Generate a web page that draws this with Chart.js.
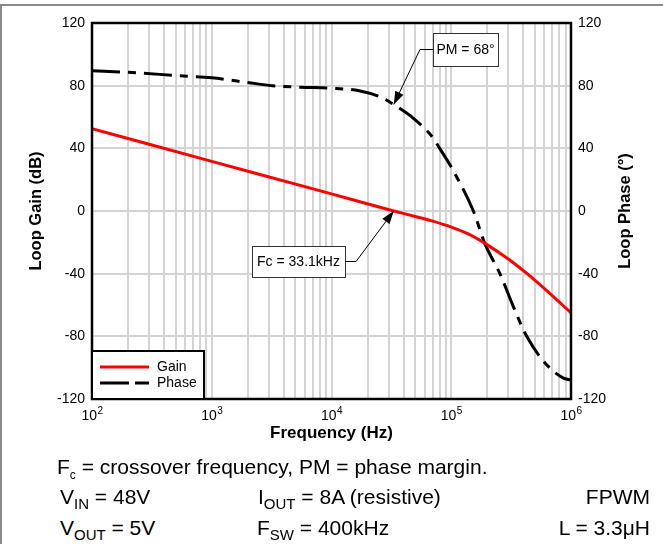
<!DOCTYPE html>
<html>
<head>
<meta charset="utf-8">
<script src="https://cdn.jsdelivr.net/npm/chart.js@4/dist/chart.umd.min.js"></script>
<style>
body{margin:0;background:#fff;}
#wrap{position:relative;width:663px;height:544px;overflow:hidden;font-family:"Liberation Sans",Arial,sans-serif;}
#frame{position:absolute;left:0;top:4px;width:680px;height:600px;border-top:2px solid #8a8a8a;border-left:2px solid #8a8a8a;}
#bode{position:absolute;left:0;top:0;}
.note{position:absolute;font-size:21px;line-height:21px;color:#000;white-space:nowrap;}
.note sub{font-size:15px;vertical-align:-5px;line-height:0;}
.note sub.c{font-size:12px;}
</style>
</head>
<body>
<div id="wrap">
<div id="frame"></div>
<canvas id="bode" width="663" height="460"></canvas>
<div class="note" style="left:57px;top:456px">F<sub class="c">c</sub> = crossover frequency, PM = phase margin.</div>
<div class="note" style="left:60px;top:486px">V<sub>IN</sub> = 48V</div>
<div class="note" style="left:258px;top:486px">I<sub>OUT</sub> = 8A (resistive)</div>
<div class="note" style="right:13px;top:486px">FPWM</div>
<div class="note" style="left:60px;top:517px">V<sub>OUT</sub> = 5V</div>
<div class="note" style="left:257px;top:517px">F<sub>SW</sub> = 400kHz</div>
<div class="note" style="right:13px;top:517px">L = 3.3μH</div>
</div>
<script>
// loop gain (dB) vs frequency (Hz)
const gainFreq=[100,1000,10000,33100,50000,70000,100000,140000,190000,250000,330000,430000,630000,1000000]
const gainDb=[52.5,31.7,10.9,0,-3.5,-6.5,-10.3,-14.8,-20.5,-26.5,-33,-40,-51,-65]

// loop phase (deg) vs frequency (Hz)
const phaseFreq=[100,200,500,1000,2000,3200,5500,10000,17000,26000,33100,46000,70000,80000,100000,153000,190000,255000,330000,427000,607000,856000,1000000]
const phaseDeg=[89.5,88.5,86.5,85,82,80,79,78.4,76.7,72.5,68,60.5,47,40,28,0,-20.5,-40,-61,-80,-97,-106.5,-108]

const decades=[100,1000,10000,100000,1000000]
const decadeExp=["2","3","4","5","6"]
const yTicks=[-120,-80,-40,0,40,80,120]

const crossFreq=33100
const phaseMargin=68

const minorTicks=[]
decades.forEach((d,i)=>{
if(i<decades.length-1){for(let m=1;m<10;m++)minorTicks.push(d*m)}
else minorTicks.push(d)
})

const FAM="'Liberation Sans', Arial, sans-serif"
const font14={family:FAM,size:14}

function callout(ctx,text,bx,by,bw,bh,ex,ey,tx,ty){
ctx.fillStyle="#fff"
ctx.fillRect(bx,by,bw,bh)
ctx.strokeStyle="#333"
ctx.lineWidth=1
ctx.strokeRect(bx+0.5,by+0.5,bw,bh)
ctx.fillStyle="#000"
ctx.font="14px "+FAM
ctx.textAlign="center"
ctx.textBaseline="middle"
ctx.fillText(text,bx+bw/2,by+bh/2+1)
ctx.strokeStyle="#000"
ctx.beginPath()
ctx.moveTo(ex,ey)
ctx.lineTo(tx,ty)
ctx.stroke()
}

function arrowTo(ctx,fx,fy,tx,ty){
ctx.beginPath()
ctx.moveTo(fx,fy)
ctx.lineTo(tx,ty)
ctx.stroke()
const ang=Math.atan2(ty-fy,tx-fx)
const len=13,half=4.5
ctx.beginPath()
ctx.moveTo(tx,ty)
ctx.lineTo(tx-len*Math.cos(ang)+half*Math.sin(ang),ty-len*Math.sin(ang)-half*Math.cos(ang))
ctx.lineTo(tx-len*Math.cos(ang)-half*Math.sin(ang),ty-len*Math.sin(ang)+half*Math.cos(ang))
ctx.closePath()
ctx.fill()
}

const overlay={
id:"overlay",
afterDraw(chart){
const {ctx,chartArea:a,scales}=chart
ctx.save()

// plot frame
ctx.strokeStyle="#000"
ctx.lineWidth=2.5
ctx.strokeRect(a.left,a.top,a.right-a.left,a.bottom-a.top)

// x tick labels 10^n with a real raised exponent
ctx.fillStyle="#000"
ctx.textAlign="left"
ctx.textBaseline="alphabetic"
decades.forEach((d,i)=>{
const px=scales.x.getPixelForValue(d)
ctx.font="14px "+FAM
const w1=ctx.measureText("10").width
ctx.font="10px "+FAM
const w2=ctx.measureText(decadeExp[i]).width
const x0=px-(w1+w2)/2
ctx.font="14px "+FAM
ctx.fillText("10",x0,420)
ctx.font="10px "+FAM
ctx.fillText(decadeExp[i],x0+w1+0.5,414)
})

// right axis title (reads bottom to top)
ctx.save()
ctx.translate(625,(a.top+a.bottom)/2)
ctx.rotate(-Math.PI/2)
ctx.font="bold 16.5px "+FAM
ctx.textAlign="center"
ctx.textBaseline="middle"
ctx.fillStyle="#000"
ctx.fillText("Loop Phase (°)",0,0)
ctx.restore()

// PM callout
const pmX=scales.x.getPixelForValue(crossFreq)
const pmY=scales.yPhase.getPixelForValue(phaseMargin)
callout(ctx,"PM = "+phaseMargin+"°",433,33,65,33,433,49.5,420,49.5)
ctx.lineWidth=1
ctx.fillStyle="#000"
arrowTo(ctx,420,49.5,pmX,pmY)

// Fc callout
const fcX=scales.x.getPixelForValue(crossFreq)
const fcY=scales.yGain.getPixelForValue(0)
callout(ctx,"Fc = 33.1kHz",252,246,93,31,345,261.5,356,261.5)
ctx.lineWidth=1
ctx.fillStyle="#000"
arrowTo(ctx,356,261.5,fcX,fcY)

// legend
const lx=a.left,ly=351,lw=112,lh=a.bottom-351
ctx.fillStyle="#fff"
ctx.fillRect(lx,ly,lw,lh)
ctx.strokeStyle="#000"
ctx.lineWidth=2
ctx.strokeRect(lx,ly,lw,lh)
const ds=chart.data.datasets
ctx.font="14px "+FAM
ctx.textAlign="left"
ctx.textBaseline="middle"
ds.forEach((d,i)=>{
const yy=367+i*16
ctx.strokeStyle=d.borderColor
ctx.lineWidth=3
ctx.setLineDash(i===0?[]:[29,6,14,6])
ctx.beginPath()
ctx.moveTo(lx+8,yy)
ctx.lineTo(lx+57,yy)
ctx.stroke()
ctx.setLineDash([])
ctx.fillStyle="#000"
ctx.fillText(d.label,lx+65,yy)
})

ctx.restore()
}
}

new Chart(document.getElementById("bode"),{
type:"line",
data:{
datasets:[{
label:"Gain",
data:gainFreq.map((f,i)=>({x:f,y:gainDb[i]})),
yAxisID:"yGain",
borderColor:"#ff0000",
borderWidth:3,
pointRadius:0,
cubicInterpolationMode:"monotone",
fill:false
},{
label:"Phase",
data:phaseFreq.map((f,i)=>({x:f,y:phaseDeg[i]})),
yAxisID:"yPhase",
borderColor:"#000000",
borderWidth:3,
borderDash:[28,8,8,8],
pointRadius:0,
cubicInterpolationMode:"monotone",
fill:false
}]
},
options:{
responsive:false,
animation:false,
layout:{padding:{top:23,left:0,right:0,bottom:0}},
plugins:{
legend:{display:false},
tooltip:{enabled:false}
},
scales:{
x:{
type:"logarithmic",
min:100,
max:1000000,
afterBuildTicks:(s)=>{s.ticks=minorTicks.map(v=>({value:v}))},
afterFit:(s)=>{s.height=61},
ticks:{display:false,autoSkip:false},
grid:{color:"#d4d4d4",lineWidth:2,drawTicks:false},
border:{display:false},
title:{display:true,text:"Frequency (Hz)",color:"#000",font:{family:FAM,size:17,weight:"bold"},padding:{top:0,bottom:16}}
},
yGain:{
position:"left",
min:-120,
max:120,
afterBuildTicks:(s)=>{s.ticks=yTicks.map(v=>({value:v}))},
afterFit:(s)=>{s.width=92},
ticks:{padding:7,color:"#000",font:font14},
grid:{color:"#d4d4d4",lineWidth:2,drawTicks:false},
border:{display:false},
title:{display:true,text:"Loop Gain (dB)",color:"#000",font:{family:FAM,size:16.5,weight:"bold"},padding:{top:27,bottom:0}}
},
yPhase:{
position:"right",
min:-120,
max:120,
afterBuildTicks:(s)=>{s.ticks=yTicks.map(v=>({value:v}))},
afterFit:(s)=>{s.width=92},
ticks:{padding:7,color:"#000",font:font14},
grid:{display:false,drawTicks:false},
border:{display:false}
}
}
},
plugins:[overlay]
})
</script>
</body>
</html>
